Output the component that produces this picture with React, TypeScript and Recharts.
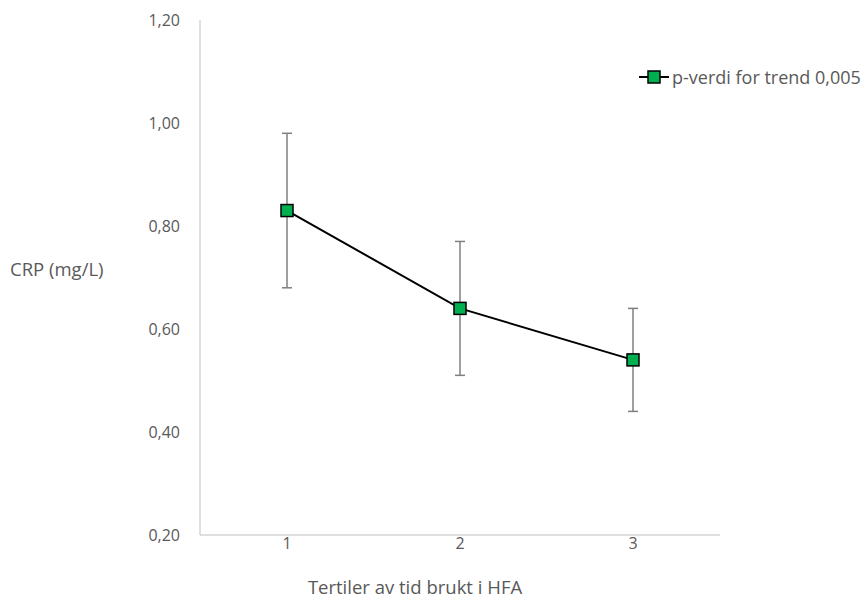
import { ErrorBar, Label, Line, LineChart, XAxis, YAxis } from "recharts"

const tertiles = ["1", "2", "3"]
const crpMean = [0.83, 0.64, 0.54]
const ciLow = [0.68, 0.51, 0.44]
const ciHigh = [0.98, 0.77, 0.64]
const yTicks = [0.2, 0.4, 0.6, 0.8, 1.0, 1.2]

const seriesName = "p-verdi for trend 0,005"

const data = tertiles.map((t, i) => ({
  name: t,
  crp: crpMean[i],
  err: [crpMean[i] - ciLow[i], ciHigh[i] - crpMean[i]],
}))

const font = "'Open Sans', sans-serif"
const textColor = "#595959"
const axisColor = "#bfbfbf"

const SquareDot = (props: any) => {
  const { cx, cy } = props
  if (cx == null || cy == null) return null
  return <rect x={cx - 6} y={cy - 6} width={12} height={12} fill="#00b050" stroke="#000" strokeWidth={1.5} />
}

export default function App() {
  return (
    <div style={{ position: "absolute", left: 0, top: 0, width: 864, height: 602 }}>
      <LineChart width={864} height={602} data={data} margin={{ top: 20, right: 144, bottom: 37, left: 140 }}>
        <XAxis
          dataKey="name"
          stroke={axisColor}
          tickLine={false}
          tickSize={0}
          tickMargin={3}
          padding={{ left: 87, right: 87 }}
          tick={{ fill: textColor, fontSize: 16, fontFamily: font }}
        >
          <Label
            value="Tertiler av tid brukt i HFA"
            position="bottom"
            offset={16}
            dx={-45}
            style={{ fill: textColor, fontSize: 18.5, fontFamily: font }}
          />
        </XAxis>
        <YAxis
          width={60}
          domain={[0.2, 1.2]}
          ticks={yTicks}
          interval={0}
          stroke={axisColor}
          tickLine={false}
          tickSize={0}
          tickMargin={20}
          tickFormatter={(v: number) => v.toFixed(2).replace(".", ",")}
          tick={{ fill: textColor, fontSize: 16, fontFamily: font }}
        >
          <Label
            content={(props: any) => {
              const vb = props.viewBox || {}
              return (
                <text
                  x={10}
                  y={vb.y + vb.height / 2 - 6}
                  fill={textColor}
                  fontSize={18.5}
                  fontFamily={font}
                  dominantBaseline="middle"
                >
                  CRP (mg/L)
                </text>
              )
            }}
          />
        </YAxis>
        <Line
          dataKey="crp"
          name={seriesName}
          stroke="#000"
          strokeWidth={2}
          dot={<SquareDot />}
          activeDot={false}
          isAnimationActive={false}
        >
          <ErrorBar dataKey="err" width={5} stroke="#7f7f7f" strokeWidth={1.5} isAnimationActive={false} />
        </Line>
      </LineChart>
      <div
        style={{
          position: "absolute",
          left: 639,
          top: 65,
          display: "flex",
          alignItems: "center",
          fontFamily: font,
          fontSize: 18,
          lineHeight: "24px",
          color: textColor,
          whiteSpace: "nowrap",
        }}
      >
        <svg width={30} height={14} style={{ marginRight: 3 }}>
          <line x1={0} y1={7} x2={30} y2={7} stroke="#000" strokeWidth={2} />
          <rect x={9} y={1} width={12} height={12} fill="#00b050" stroke="#000" strokeWidth={1.5} />
        </svg>
        <span>{seriesName}</span>
      </div>
    </div>
  )
}
